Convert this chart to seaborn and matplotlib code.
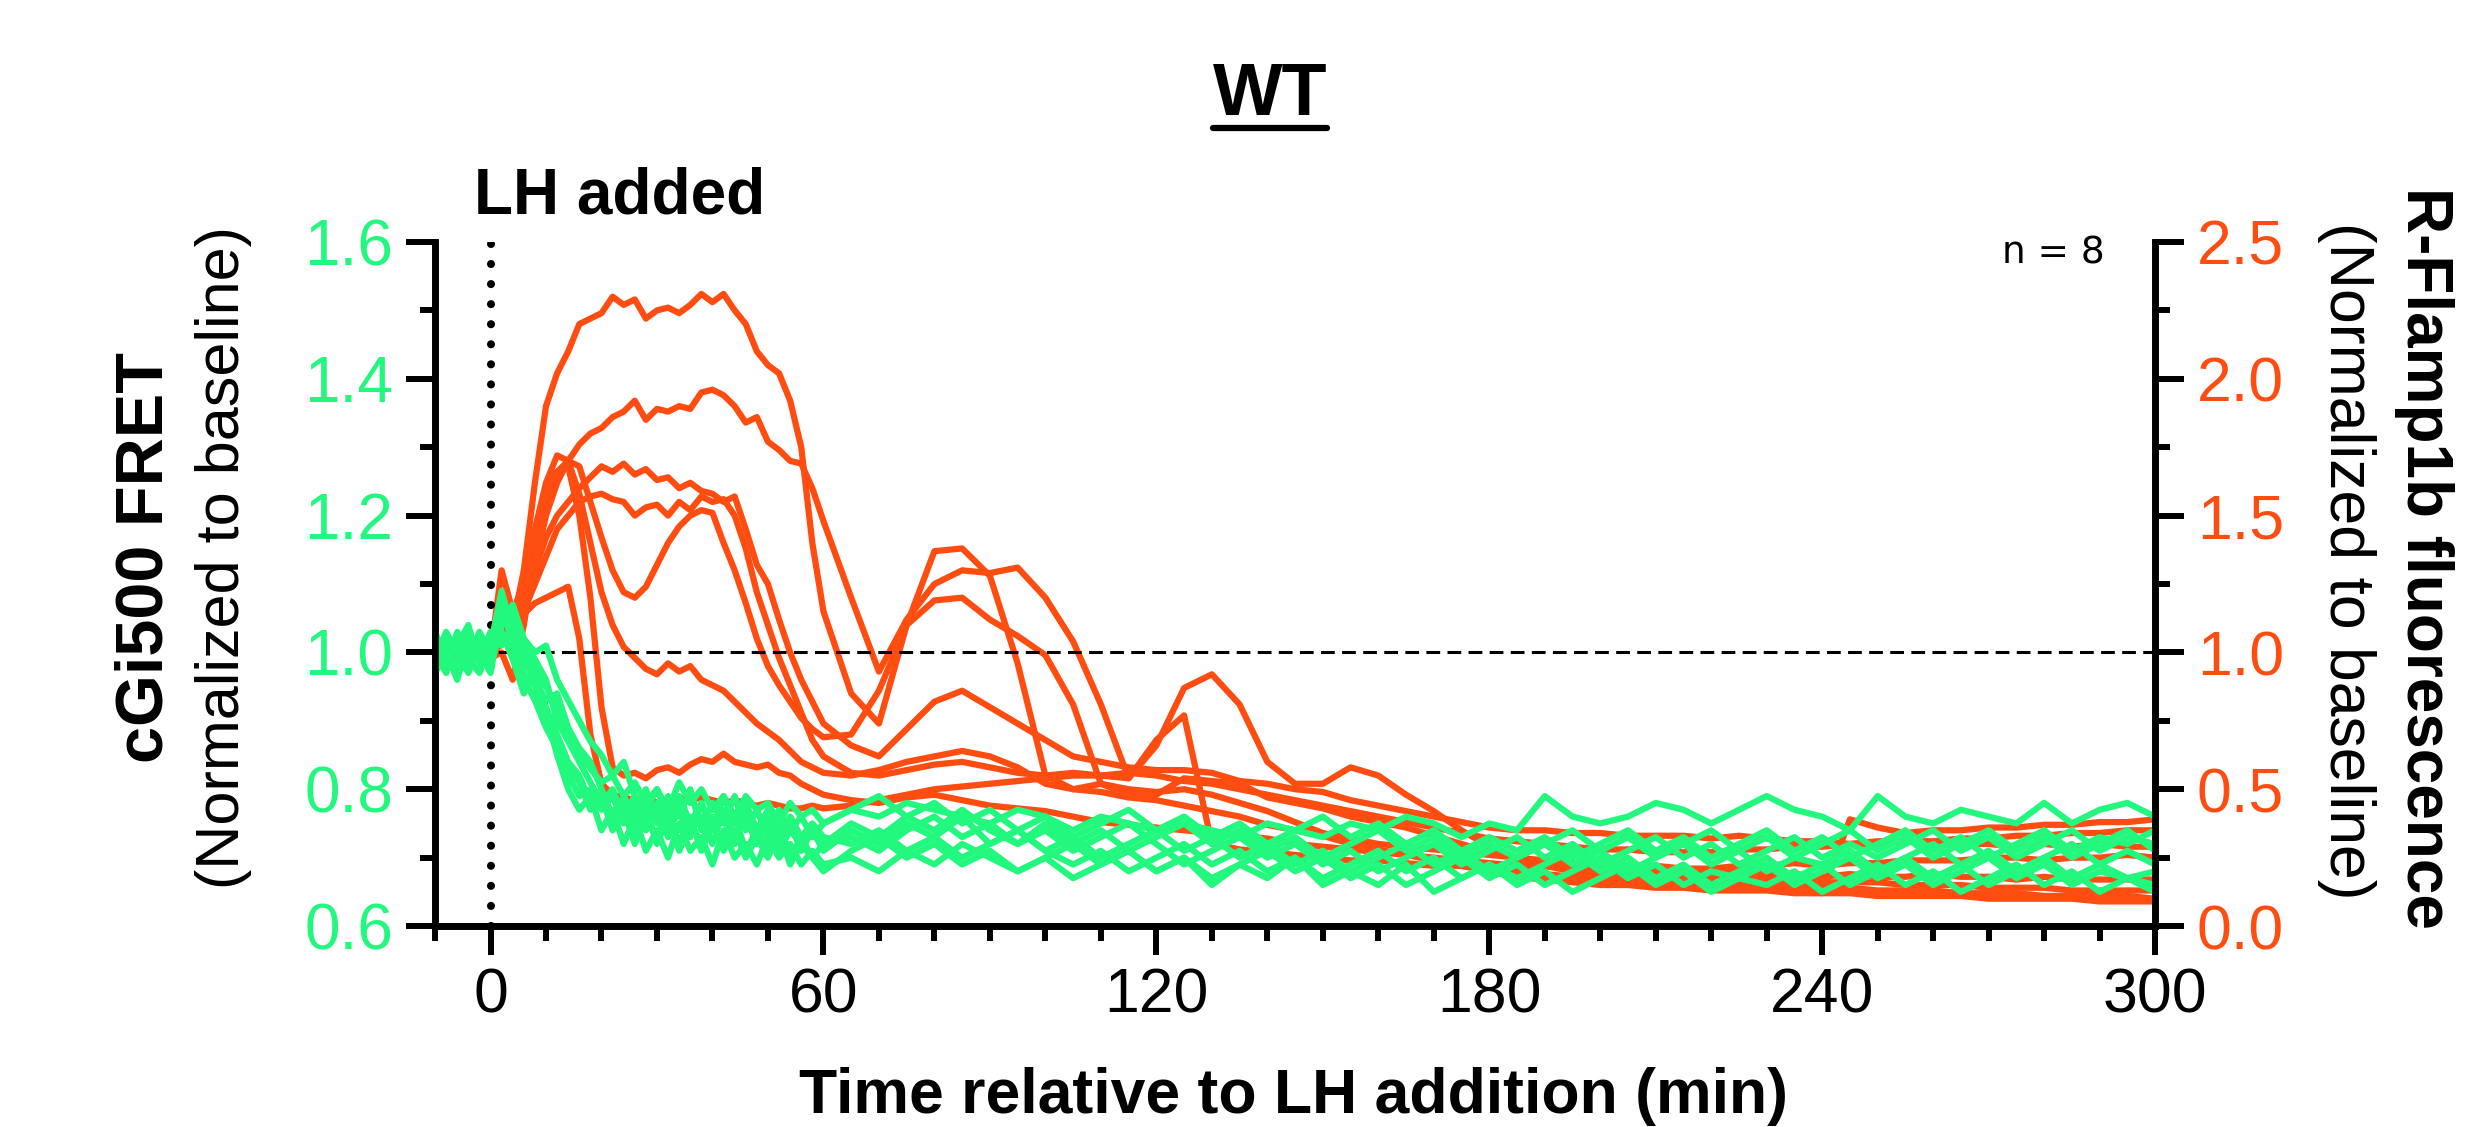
import numpy as np
import pandas as pd
import matplotlib
matplotlib.use("Agg")
import matplotlib.pyplot as plt
import seaborn as sns
from matplotlib.ticker import MultipleLocator
from matplotlib.lines import Line2D

# sampling: every 2 min up to 60, then every 5 min
time = list(range(-10, 61, 2)) + list(range(65, 301, 5))

# R-Flamp1b (right axis), one list per cell
orange_1 = [1.00, 0.99, 1.01, 1.00, 0.99, 1.01, 1.04, 1.10, 1.30, 1.62, 1.90, 2.02, 2.10, 2.20, 2.22, 2.24, 2.30, 2.27,
            2.29, 2.22, 2.25, 2.26, 2.24, 2.27, 2.31, 2.28, 2.31, 2.25, 2.20, 2.10, 2.05, 2.02, 1.92, 1.75, 1.40, 1.15,
            0.85, 0.74, 1.10, 1.37, 1.38, 1.28, 0.96, 0.55, 0.50, 0.52, 0.48, 0.48, 0.54, 0.53, 0.52, 0.47, 0.45, 0.43,
            0.40, 0.38, 0.36, 0.33, 0.30, 0.27, 0.25, 0.22, 0.20, 0.19, 0.18, 0.17, 0.17, 0.16, 0.16, 0.15, 0.15, 0.14,
            0.14, 0.13, 0.13, 0.13, 0.12, 0.12, 0.12, 0.11, 0.11, 0.11, 0.11, 0.10]
orange_2 = [1.01, 1.00, 0.99, 1.01, 1.00, 1.02, 1.08, 1.12, 1.18, 1.32, 1.50, 1.62, 1.70, 1.76, 1.80, 1.82, 1.86, 1.88,
            1.92, 1.85, 1.89, 1.88, 1.90, 1.89, 1.95, 1.96, 1.94, 1.90, 1.84, 1.86, 1.77, 1.74, 1.70, 1.69, 1.60, 1.48,
            1.20, 0.93, 1.12, 1.25, 1.30, 1.29, 1.31, 1.20, 1.04, 0.81, 0.54, 0.66, 0.87, 0.92, 0.81, 0.60, 0.52, 0.52,
            0.58, 0.55, 0.48, 0.42, 0.35, 0.29, 0.24, 0.22, 0.21, 0.21, 0.20, 0.21, 0.20, 0.19, 0.20, 0.19, 0.19, 0.18,
            0.19, 0.18, 0.18, 0.19, 0.18, 0.18, 0.17, 0.18, 0.17, 0.17, 0.17, 0.17]
orange_3 = [1.00, 1.01, 1.00, 0.99, 1.01, 1.00, 1.06, 1.15, 1.22, 1.30, 1.42, 1.50, 1.55, 1.60, 1.64, 1.68, 1.66, 1.69,
            1.65, 1.67, 1.63, 1.64, 1.60, 1.62, 1.59, 1.58, 1.55, 1.57, 1.45, 1.32, 1.25, 1.12, 1.00, 0.90, 0.82, 0.74,
            0.66, 0.62, 0.72, 0.82, 0.86, 0.80, 0.74, 0.68, 0.62, 0.60, 0.58, 0.57, 0.57, 0.56, 0.53, 0.52, 0.50, 0.49,
            0.46, 0.44, 0.42, 0.40, 0.38, 0.36, 0.35, 0.35, 0.34, 0.34, 0.33, 0.33, 0.33, 0.32, 0.33, 0.32, 0.31, 0.31,
            0.30, 0.31, 0.31, 0.30, 0.30, 0.30, 0.29, 0.30, 0.29, 0.30, 0.29, 0.29]
orange_4 = [0.99, 1.00, 1.01, 1.00, 0.99, 1.00, 1.03, 1.08, 1.15, 1.25, 1.35, 1.45, 1.50, 1.55, 1.57, 1.58, 1.56, 1.55,
            1.50, 1.53, 1.54, 1.50, 1.55, 1.52, 1.57, 1.55, 1.56, 1.50, 1.38, 1.22, 1.10, 0.98, 0.88, 0.78, 0.68, 0.62,
            0.56, 0.55, 0.57, 0.59, 0.60, 0.58, 0.56, 0.55, 0.56, 0.55, 0.54, 0.68, 0.77, 0.30, 0.28, 0.27, 0.26, 0.25,
            0.24, 0.24, 0.23, 0.22, 0.22, 0.21, 0.20, 0.19, 0.18, 0.17, 0.17, 0.16, 0.15, 0.15, 0.14, 0.14, 0.13, 0.12,
            0.39, 0.36, 0.34, 0.35, 0.35, 0.36, 0.36, 0.37, 0.37, 0.38, 0.38, 0.39]
orange_5 = [1.00, 0.99, 1.00, 1.01, 1.00, 0.98, 1.00, 0.90, 1.10, 1.35, 1.55, 1.66, 1.70, 1.68, 1.55, 1.42, 1.30, 1.22,
            1.20, 1.24, 1.32, 1.40, 1.46, 1.50, 1.52, 1.51, 1.40, 1.30, 1.18, 1.05, 0.95, 0.88, 0.82, 0.76, 0.72, 0.69,
            0.70, 0.86, 1.10, 1.19, 1.20, 1.12, 1.06, 0.99, 0.81, 0.52, 0.50, 0.49, 0.50, 0.48, 0.45, 0.42, 0.38, 0.34,
            0.32, 0.30, 0.29, 0.28, 0.27, 0.26, 0.25, 0.24, 0.23, 0.23, 0.22, 0.22, 0.21, 0.21, 0.22, 0.22, 0.23, 0.22,
            0.23, 0.23, 0.24, 0.24, 0.24, 0.25, 0.25, 0.24, 0.25, 0.25, 0.26, 0.25]
orange_6 = [1.01, 1.00, 1.00, 0.99, 1.01, 1.00, 1.30, 1.15, 1.25, 1.45, 1.62, 1.72, 1.70, 1.58, 1.40, 1.22, 1.10, 1.02,
            0.98, 0.94, 0.92, 0.96, 0.93, 0.95, 0.90, 0.88, 0.86, 0.82, 0.78, 0.74, 0.71, 0.68, 0.64, 0.60, 0.58, 0.56,
            0.55, 0.57, 0.60, 0.62, 0.64, 0.62, 0.58, 0.52, 0.50, 0.49, 0.47, 0.46, 0.44, 0.42, 0.40, 0.37, 0.35, 0.33,
            0.30, 0.28, 0.26, 0.24, 0.22, 0.20, 0.18, 0.17, 0.16, 0.15, 0.15, 0.14, 0.14, 0.13, 0.13, 0.13, 0.12, 0.12,
            0.12, 0.11, 0.11, 0.11, 0.11, 0.10, 0.10, 0.10, 0.10, 0.09, 0.09, 0.09]
orange_7 = [1.00, 1.01, 0.99, 1.00, 1.00, 1.01, 1.10, 1.12, 1.20, 1.40, 1.58, 1.66, 1.68, 1.50, 1.20, 0.80, 0.58, 0.55,
            0.56, 0.54, 0.57, 0.58, 0.56, 0.59, 0.61, 0.60, 0.63, 0.60, 0.59, 0.58, 0.59, 0.56, 0.55, 0.52, 0.50, 0.48,
            0.46, 0.45, 0.47, 0.48, 0.46, 0.44, 0.43, 0.42, 0.40, 0.38, 0.37, 0.36, 0.35, 0.34, 0.33, 0.32, 0.30, 0.29,
            0.28, 0.27, 0.26, 0.25, 0.24, 0.23, 0.22, 0.22, 0.21, 0.20, 0.20, 0.19, 0.19, 0.18, 0.18, 0.17, 0.17, 0.16,
            0.16, 0.16, 0.15, 0.15, 0.15, 0.14, 0.14, 0.14, 0.13, 0.13, 0.13, 0.13]
orange_8 = [0.99, 1.00, 1.00, 1.01, 0.99, 1.00, 1.15, 1.12, 1.14, 1.18, 1.20, 1.22, 1.24, 1.05, 0.70, 0.52, 0.48, 0.47,
            0.46, 0.47, 0.45, 0.46, 0.47, 0.46, 0.47, 0.46, 0.45, 0.46, 0.45, 0.44, 0.45, 0.44, 0.43, 0.43, 0.44, 0.43,
            0.44, 0.46, 0.48, 0.50, 0.51, 0.52, 0.53, 0.54, 0.55, 0.55, 0.56, 0.55, 0.53, 0.52, 0.50, 0.48, 0.46, 0.44,
            0.42, 0.40, 0.38, 0.36, 0.34, 0.32, 0.31, 0.30, 0.29, 0.28, 0.28, 0.27, 0.27, 0.27, 0.28, 0.28, 0.29, 0.29,
            0.30, 0.30, 0.31, 0.31, 0.32, 0.32, 0.33, 0.33, 0.34, 0.34, 0.35, 0.35]

# cGi500 FRET (left axis), one list per cell
green_1 = [1.00, 0.97, 1.02, 0.98, 1.01, 0.99, 1.08, 1.02, 0.97, 0.95, 0.90, 0.86, 0.82, 0.79, 0.80, 0.77, 0.79, 0.75,
           0.78, 0.74, 0.77, 0.73, 0.78, 0.74, 0.76, 0.72, 0.77, 0.73, 0.76, 0.72, 0.75, 0.71, 0.74, 0.72, 0.74, 0.71,
           0.74, 0.72, 0.75, 0.73, 0.76, 0.72, 0.74, 0.71, 0.73, 0.70, 0.72, 0.74, 0.71, 0.73, 0.70, 0.72, 0.69, 0.71,
           0.68, 0.70, 0.72, 0.69, 0.71, 0.68, 0.70, 0.72, 0.69, 0.71, 0.68, 0.70, 0.72, 0.69, 0.71, 0.68, 0.70, 0.69,
           0.71, 0.68, 0.70, 0.72, 0.69, 0.71, 0.68, 0.70, 0.72, 0.69, 0.71, 0.69]
green_2 = [1.03, 0.99, 1.01, 1.04, 0.98, 1.02, 1.05, 1.06, 1.00, 0.98, 0.95, 0.92, 0.88, 0.85, 0.83, 0.81, 0.82, 0.79,
           0.81, 0.78, 0.80, 0.77, 0.81, 0.78, 0.80, 0.77, 0.79, 0.76, 0.79, 0.77, 0.78, 0.75, 0.78, 0.76, 0.77, 0.75,
           0.77, 0.76, 0.78, 0.77, 0.76, 0.75, 0.77, 0.76, 0.74, 0.76, 0.75, 0.74, 0.75, 0.74, 0.73, 0.75, 0.74, 0.73,
           0.75, 0.74, 0.76, 0.75, 0.73, 0.75, 0.74, 0.79, 0.76, 0.75, 0.76, 0.78, 0.77, 0.75, 0.77, 0.79, 0.77, 0.76,
           0.74, 0.79, 0.76, 0.75, 0.77, 0.76, 0.75, 0.78, 0.75, 0.77, 0.78, 0.76]
green_3 = [0.98, 1.02, 0.97, 1.01, 0.99, 1.03, 1.01, 1.04, 0.99, 0.96, 0.93, 0.94, 0.89, 0.86, 0.84, 0.80, 0.76, 0.78,
           0.73, 0.77, 0.72, 0.76, 0.71, 0.75, 0.72, 0.76, 0.71, 0.74, 0.70, 0.73, 0.70, 0.74, 0.69, 0.72, 0.70, 0.68,
           0.71, 0.73, 0.70, 0.72, 0.69, 0.71, 0.68, 0.70, 0.72, 0.69, 0.71, 0.68, 0.70, 0.67, 0.69, 0.71, 0.68, 0.70,
           0.67, 0.69, 0.66, 0.68, 0.70, 0.67, 0.69, 0.66, 0.68, 0.70, 0.67, 0.69, 0.66, 0.68, 0.67, 0.69, 0.66, 0.68,
           0.70, 0.67, 0.69, 0.66, 0.68, 0.70, 0.67, 0.69, 0.66, 0.68, 0.67, 0.66]
green_4 = [1.01, 1.00, 0.96, 1.02, 1.00, 0.97, 1.06, 1.02, 1.00, 0.97, 0.92, 0.88, 0.84, 0.82, 0.78, 0.80, 0.75, 0.79,
           0.76, 0.80, 0.75, 0.79, 0.76, 0.80, 0.74, 0.78, 0.75, 0.79, 0.74, 0.77, 0.73, 0.77, 0.74, 0.76, 0.73, 0.75,
           0.77, 0.79, 0.76, 0.78, 0.75, 0.77, 0.74, 0.76, 0.73, 0.75, 0.77, 0.74, 0.76, 0.73, 0.75, 0.72, 0.74, 0.76,
           0.73, 0.75, 0.72, 0.74, 0.71, 0.73, 0.71, 0.73, 0.70, 0.72, 0.74, 0.71, 0.73, 0.70, 0.72, 0.74, 0.71, 0.73,
           0.70, 0.72, 0.74, 0.71, 0.73, 0.70, 0.72, 0.74, 0.71, 0.73, 0.72, 0.74]
green_5 = [0.99, 1.03, 1.00, 0.97, 1.02, 1.00, 1.03, 0.99, 0.94, 0.97, 0.91, 0.85, 0.80, 0.77, 0.79, 0.74, 0.77, 0.72,
           0.76, 0.71, 0.74, 0.70, 0.75, 0.71, 0.73, 0.69, 0.74, 0.70, 0.72, 0.69, 0.73, 0.70, 0.72, 0.69, 0.71, 0.69,
           0.70, 0.68, 0.71, 0.69, 0.72, 0.70, 0.68, 0.70, 0.67, 0.69, 0.71, 0.68, 0.70, 0.66, 0.69, 0.67, 0.70, 0.66,
           0.68, 0.66, 0.69, 0.65, 0.67, 0.69, 0.66, 0.68, 0.65, 0.67, 0.69, 0.66, 0.68, 0.65, 0.67, 0.66, 0.68, 0.65,
           0.67, 0.69, 0.66, 0.68, 0.65, 0.67, 0.69, 0.66, 0.68, 0.65, 0.67, 0.65]
green_6 = [1.02, 0.98, 1.03, 0.99, 0.97, 1.01, 1.09, 1.03, 1.01, 0.99, 0.96, 0.90, 0.87, 0.84, 0.81, 0.78, 0.80, 0.76,
           0.79, 0.75, 0.78, 0.74, 0.77, 0.73, 0.78, 0.74, 0.76, 0.72, 0.77, 0.73, 0.76, 0.72, 0.75, 0.71, 0.74, 0.72,
           0.75, 0.73, 0.76, 0.74, 0.77, 0.74, 0.72, 0.75, 0.72, 0.74, 0.71, 0.73, 0.75, 0.72, 0.74, 0.71, 0.73, 0.70,
           0.72, 0.74, 0.71, 0.73, 0.70, 0.72, 0.70, 0.72, 0.74, 0.71, 0.73, 0.70, 0.72, 0.74, 0.71, 0.73, 0.70, 0.72,
           0.74, 0.71, 0.73, 0.70, 0.72, 0.74, 0.71, 0.73, 0.70, 0.72, 0.74, 0.71]
green_7 = [1.00, 1.01, 0.98, 1.03, 1.00, 0.98, 1.04, 1.07, 1.02, 1.00, 1.01, 0.96, 0.93, 0.90, 0.87, 0.85, 0.82, 0.84,
           0.79, 0.77, 0.80, 0.76, 0.79, 0.75, 0.78, 0.74, 0.79, 0.75, 0.78, 0.74, 0.77, 0.73, 0.76, 0.73, 0.75, 0.73,
           0.72, 0.74, 0.71, 0.73, 0.70, 0.72, 0.74, 0.71, 0.69, 0.71, 0.68, 0.70, 0.72, 0.69, 0.71, 0.68, 0.70, 0.67,
           0.69, 0.71, 0.68, 0.70, 0.67, 0.69, 0.67, 0.69, 0.71, 0.68, 0.70, 0.67, 0.69, 0.66, 0.68, 0.70, 0.67, 0.69,
           0.66, 0.68, 0.70, 0.67, 0.69, 0.66, 0.68, 0.70, 0.67, 0.69, 0.67, 0.68]
green_8 = [0.97, 1.00, 1.02, 0.99, 1.03, 1.00, 1.07, 1.01, 0.96, 0.93, 0.89, 0.86, 0.83, 0.81, 0.77, 0.79, 0.74, 0.77,
           0.72, 0.76, 0.73, 0.77, 0.72, 0.76, 0.71, 0.75, 0.72, 0.76, 0.71, 0.74, 0.71, 0.75, 0.70, 0.73, 0.70, 0.72,
           0.73, 0.71, 0.74, 0.76, 0.73, 0.75, 0.72, 0.74, 0.71, 0.73, 0.75, 0.72, 0.69, 0.71, 0.73, 0.70, 0.72, 0.69,
           0.71, 0.68, 0.70, 0.72, 0.69, 0.71, 0.73, 0.70, 0.72, 0.69, 0.71, 0.73, 0.70, 0.72, 0.69, 0.71, 0.73, 0.70,
           0.72, 0.70, 0.72, 0.74, 0.71, 0.73, 0.70, 0.72, 0.74, 0.71, 0.73, 0.72]

x_ticks = [0, 60, 120, 180, 240, 300]
left_ticks = [0.6, 0.8, 1.0, 1.2, 1.4, 1.6]
right_ticks = [0.0, 0.5, 1.0, 1.5, 2.0, 2.5]

GREEN = "#22F87E"
ORANGE = "#FF4D12"

sns.set_style("ticks", {"axes.edgecolor": "black", "xtick.color": "black", "ytick.color": "black",
                        "text.color": "black", "axes.labelcolor": "black"})
plt.rcParams["font.family"] = ["Liberation Sans", "DejaVu Sans"]
plt.rcParams["text.color"] = "black"


def long_form(traces):
    parts = []
    for i, vals in enumerate(traces):
        assert len(vals) == len(time), (i, len(vals))
        parts.append(pd.DataFrame({"time": time, "value": vals, "cell": i}))
    return pd.concat(parts, ignore_index=True)


orange_df = long_form([orange_1, orange_2, orange_3, orange_4, orange_5, orange_6, orange_7, orange_8])
green_df = long_form([green_1, green_2, green_3, green_4, green_5, green_6, green_7, green_8])

fig = plt.figure(figsize=(24.76, 11.27), dpi=100)
ax = fig.add_axes([0.1757, 0.1783, 0.6947, 0.607])
ax2 = ax.twinx()

sns.lineplot(data=orange_df, x="time", y="value", units="cell", estimator=None,
             color=ORANGE, linewidth=4.5, ax=ax2, legend=False)
sns.lineplot(data=green_df, x="time", y="value", units="cell", estimator=None,
             color=GREEN, linewidth=4.5, ax=ax, legend=False)

# green on top of orange
ax.set_zorder(ax2.get_zorder() + 1)
ax.patch.set_visible(False)

ax.axvline(0, color="black", lw=5.8, linestyle=(0, (0.01, 2.48)), dash_capstyle="round", zorder=1)
ax.axhline(1.0, color="black", lw=2.2, linestyle=(0, (4.5, 2.4)), zorder=1)

ax.set_xlim(-10, 300)
ax.set_ylim(0.6, 1.6)
ax2.set_ylim(0, 2.5)

ax.set_xticks(x_ticks, labels=[str(v) for v in x_ticks], fontsize=45, color="black")
ax.xaxis.set_minor_locator(MultipleLocator(10))
ax.set_yticks(left_ticks, labels=[f"{v:.1f}" for v in left_ticks], fontsize=46, color=GREEN)
ax.yaxis.set_minor_locator(MultipleLocator(0.1))
ax2.set_yticks(right_ticks, labels=[f"{v:.1f}" for v in right_ticks], fontsize=45, color=ORANGE)
ax2.yaxis.set_minor_locator(MultipleLocator(0.25))

for a in (ax, ax2):
    a.tick_params(which="major", direction="out", length=21, width=4.3, color="black")
    a.tick_params(which="minor", direction="out", length=10.5, width=4.3, color="black")
    a.set_xlabel("")
    a.set_ylabel("")
    a.spines["top"].set_visible(False)
    for s in ("left", "bottom", "right"):
        a.spines[s].set_linewidth(4.8)
        a.spines[s].set_color("black")
ax.tick_params(axis="y", pad=9)
ax.tick_params(axis="x", pad=8)
ax2.tick_params(axis="y", pad=9)
ax.spines["right"].set_visible(True)

# labels and annotations
fig.text(0.5226, 0.0124, "Time relative to LH addition (min)", ha="center", va="baseline",
         fontsize=45, fontweight="bold", color="black")
fig.text(0.0586, 0.505, "cGi500 FRET", rotation=90, ha="center", va="center",
         fontsize=48, fontweight="bold", color="black")
fig.text(0.0903, 0.505, "(Normalized to baseline)", rotation=90, ha="center", va="center",
         fontsize=44, color="black")
fig.text(0.979, 0.505, "R-Flamp1b fluorescence", rotation=270, ha="center", va="center",
         fontsize=46, fontweight="bold", color="black")
fig.text(0.9475, 0.502, "(Normalized to baseline)", rotation=270, ha="center", va="center",
         fontsize=45, color="black")
fig.text(0.1914, 0.811, "LH added", ha="left", va="baseline", fontsize=46, fontweight="bold", color="black")
fig.text(0.850, 0.775, "n = 8", ha="right", va="center", fontsize=27, family="DejaVu Sans", color="black")

title = fig.text(0.513, 0.898, "WT", ha="center", va="baseline", fontsize=53, fontweight="bold", color="black")
fig.canvas.draw()
bb = title.get_window_extent()
W = fig.bbox.width
fig.add_artist(Line2D([bb.x0 / W, bb.x1 / W], [0.886, 0.886], transform=fig.transFigure,
                      color="black", lw=4.5))

fig.savefig("out.png", dpi=100)
